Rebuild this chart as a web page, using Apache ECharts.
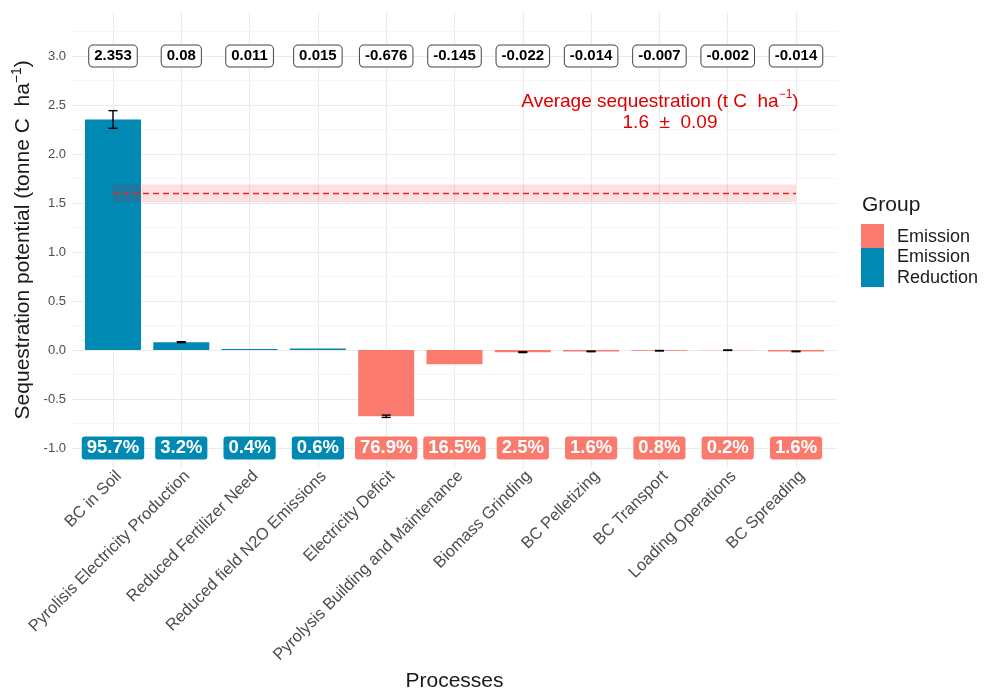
<!DOCTYPE html>
<html>
<head>
<meta charset="utf-8">
<script src="https://cdn.jsdelivr.net/npm/echarts@6/dist/echarts.min.js"></script>
<style>
  html, body { margin: 0; padding: 0; background: #fff; }
  #chart { width: 984px; height: 693px; }
</style>
</head>
<body>
<div id="chart"></div>
<script>
// ---- data ----
const processes = [
  'BC in Soil',
  'Pyrolisis Electricity Production',
  'Reduced Fertilizer Need',
  'Reduced field N2O Emissions',
  'Electricity Deficit',
  'Pyrolysis Building and Maintenance',
  'Biomass Grinding',
  'BC Pelletizing',
  'BC Transport',
  'Loading Operations',
  'BC Spreading'
];
const groups = [
  'Emission Reduction', 'Emission Reduction', 'Emission Reduction', 'Emission Reduction',
  'Emission', 'Emission', 'Emission', 'Emission', 'Emission', 'Emission', 'Emission'
];
// sequestration potential (tonne C ha-1) and its standard deviation
const potential   = [2.353, 0.08, 0.011, 0.015, -0.676, -0.145, -0.022, -0.014, -0.007, -0.002, -0.014];
const potentialSd = [0.09, 0.005, 0, 0, 0.012, 0, 0.004, 0.003, 0.002, 0.002, 0.003];
// share of each process within its group (%)
const groupShare  = [95.7, 3.2, 0.4, 0.6, 76.9, 16.5, 2.5, 1.6, 0.8, 0.2, 1.6];
// average sequestration (t C ha-1)
const avgSequestration = 1.6;
const avgSequestrationSd = 0.09;
// axis ticks
const yMajorTicks = [-1, -0.5, 0, 0.5, 1, 1.5, 2, 2.5, 3];
const yMinorTicks = [-0.75, -0.25, 0.25, 0.75, 1.25, 1.75, 2.25, 2.75, 3.25];
const legendGroups = ['Emission', 'Emission Reduction'];

// ---- styling / layout ----
const GROUP_COLORS = { 'Emission': '#FA7B6D', 'Emission Reduction': '#0089B3' };
const FONT = '"Liberation Sans", Arial, Helvetica, sans-serif';
const Y_MIN = -1.2, Y_MAX = 3.45;
const VALUE_ROW = 3.0;     // row of the value boxes
const SHARE_ROW = -1.0;    // row of the share boxes
const PANEL = { left: 72, right: 837, top: 12, bottom: 467.6 };
const panelW = PANEL.right - PANEL.left;
const panelH = PANEL.bottom - PANEL.top;
const step = panelW / (processes.length + 0.2);     // spacing between categories
const inset = 0.1 * step;
const yPix = v => PANEL.top + (Y_MAX - v) / (Y_MAX - Y_MIN) * panelH;

const chart = echarts.init(document.getElementById('chart'), null, { renderer: 'canvas' });

const majorLine = { color: '#EBEBEB', width: 1.1, type: 'solid' };
const minorLine = { color: '#F2F2F2', width: 0.7, type: 'solid' };

// boxed text drawn at a data position
function boxedText(pt, text, box) {
  return {
    type: 'text', x: pt[0], y: pt[1],
    style: Object.assign({
      text: text, align: 'center', verticalAlign: 'middle', fontFamily: FONT
    }, box)
  };
}

const option = {
  animation: false,
  backgroundColor: '#fff',
  textStyle: { fontFamily: FONT },
  grid: [
    // full panel: background grid lines
    { left: PANEL.left, top: PANEL.top, width: panelW, height: panelH },
    // category panel: bars and labels
    { left: PANEL.left + inset, top: PANEL.top, width: panelW - 2 * inset, height: panelH },
    // tick label strip for the y axis
    { left: PANEL.left, top: yPix(3), width: panelW, height: yPix(-1) - yPix(3) }
  ],
  xAxis: [
    { gridIndex: 0, type: 'value', min: -0.6, max: processes.length - 0.4, show: false },
    {
      gridIndex: 1, type: 'category', data: processes,
      axisLine: { show: false }, axisTick: { show: false }, splitLine: { show: false },
      axisLabel: {
        rotate: 45, interval: 0, margin: 0, verticalAlign: 'top', align: 'right',
        fontSize: 16.5, color: '#4D4D4D', fontFamily: FONT
      }
    },
    { gridIndex: 2, type: 'value', min: 0, max: 1, show: false }
  ],
  yAxis: [
    { gridIndex: 0, type: 'value', min: Y_MIN, max: Y_MAX, show: false },
    { gridIndex: 1, type: 'value', min: Y_MIN, max: Y_MAX, show: false },
    {
      gridIndex: 2, type: 'value', min: -1, max: 3, interval: 0.5,
      axisLine: { show: false }, axisTick: { show: false }, splitLine: { show: false },
      axisLabel: {
        margin: 6, fontSize: 13, color: '#4D4D4D', fontFamily: FONT,
        formatter: v => v.toFixed(1)
      }
    }
  ],
  series: [
    // panel grid lines
    {
      type: 'line', xAxisIndex: 0, yAxisIndex: 0, data: [], silent: true, z: 0,
      markLine: {
        silent: true, symbol: 'none', animation: false, z: 0,
        label: { show: false },
        emphasis: { disabled: true },
        data: [
          ...yMinorTicks.map(v => ({ yAxis: v, lineStyle: minorLine })),
          ...yMajorTicks.map(v => ({ yAxis: v, lineStyle: majorLine })),
          ...processes.map((_, i) => ({ xAxis: i, lineStyle: majorLine }))
        ]
      }
    },
    // bars
    {
      type: 'bar', xAxisIndex: 1, yAxisIndex: 1, z: 2, barWidth: 56,
      data: potential.map((v, i) => ({ value: v, itemStyle: { color: GROUP_COLORS[groups[i]] } }))
    },
    // average sequestration band (mean +/- sd), translucent over the bars
    {
      type: 'line', xAxisIndex: 1, yAxisIndex: 1, data: [], silent: true, z: 3,
      markArea: {
        silent: true, z: 3,
        itemStyle: { color: 'rgba(255, 0, 0, 0.12)' },
        label: { show: false },
        data: [[
          { xAxis: processes[0], yAxis: avgSequestration - avgSequestrationSd },
          { xAxis: processes[processes.length - 1], yAxis: avgSequestration + avgSequestrationSd }
        ]]
      }
    },
    // average sequestration dashed line
    {
      type: 'line', xAxisIndex: 1, yAxisIndex: 1, data: [], silent: true, z: 4,
      markLine: {
        silent: true, symbol: 'none', label: { show: false }, z: 4,
        lineStyle: { color: '#E8262A', width: 1.4, type: [6, 4] },
        data: [[
          { xAxis: processes[0], yAxis: avgSequestration },
          { xAxis: processes[processes.length - 1], yAxis: avgSequestration }
        ]]
      }
    },
    // error bars
    {
      type: 'custom', xAxisIndex: 1, yAxisIndex: 1, z: 5, silent: true,
      data: potential.map((v, i) => [i, v, potentialSd[i]]).filter(d => d[2] > 0),
      renderItem: (params, api) => {
        const i = api.value(0), v = api.value(1), sd = api.value(2);
        const hi = api.coord([i, v + sd]);
        const lo = api.coord([i, v - sd]);
        const half = 4.5;
        const st = { stroke: '#000', lineWidth: 1.4 };
        return {
          type: 'group',
          children: [
            { type: 'line', shape: { x1: hi[0], y1: hi[1], x2: lo[0], y2: lo[1] }, style: st },
            { type: 'line', shape: { x1: hi[0] - half, y1: hi[1], x2: hi[0] + half, y2: hi[1] }, style: st },
            { type: 'line', shape: { x1: lo[0] - half, y1: lo[1], x2: lo[0] + half, y2: lo[1] }, style: st }
          ]
        };
      }
    },
    // value boxes
    {
      type: 'custom', xAxisIndex: 1, yAxisIndex: 1, z: 6, silent: true,
      data: potential.map((v, i) => [i, VALUE_ROW]),
      renderItem: (params, api) => boxedText(
        api.coord([api.value(0), api.value(1)]),
        String(potential[params.dataIndex]),
        {
          fontSize: 15, fontWeight: 'bold', fill: '#000',
          backgroundColor: '#fff', borderColor: '#444', borderWidth: 1, borderRadius: 4,
          padding: [4, 5, 2, 5]
        }
      )
    },
    // group share boxes
    {
      type: 'custom', xAxisIndex: 1, yAxisIndex: 1, z: 6, silent: true,
      data: groupShare.map((s, i) => [i, SHARE_ROW]),
      renderItem: (params, api) => boxedText(
        api.coord([api.value(0), api.value(1)]),
        groupShare[params.dataIndex].toFixed(1) + '%',
        {
          fontSize: 18.5, fontWeight: 'bold', fill: '#fff',
          backgroundColor: GROUP_COLORS[groups[params.dataIndex]], borderRadius: 3,
          padding: [3, 5, 1, 5]
        }
      )
    }
  ],
  graphic: [
    // y axis title
    {
      type: 'text', z: 100, x: 22, y: (PANEL.top + PANEL.bottom) / 2, rotation: Math.PI / 2,
      style: {
        text: '{t|Sequestration potential (tonne C  ha}{s|−1}{t|)}',
        align: 'center', verticalAlign: 'middle',
        rich: {
          t: { fontFamily: FONT, fontSize: 21, fill: '#1a1a1a', verticalAlign: 'bottom', lineHeight: 24 },
          s: { fontFamily: FONT, fontSize: 14, fill: '#1a1a1a', verticalAlign: 'top', lineHeight: 24 }
        }
      }
    },
    // x axis title
    {
      type: 'text', z: 100, x: (PANEL.left + PANEL.right) / 2, y: 681,
      style: { text: 'Processes', font: '21px ' + FONT, fill: '#1a1a1a', align: 'center', verticalAlign: 'middle' }
    },
    // average annotation
    {
      type: 'text', z: 100, x: 660, y: 100,
      style: {
        text: '{t|Average sequestration (t C  ha}{s|−1}{t|)}',
        align: 'center', verticalAlign: 'middle',
        rich: {
          t: { fontFamily: FONT, fontSize: 19, fill: '#E00000', verticalAlign: 'bottom', lineHeight: 22 },
          s: { fontFamily: FONT, fontSize: 12, fill: '#E00000', verticalAlign: 'top', lineHeight: 22 }
        }
      }
    },
    {
      type: 'text', z: 100, x: 670, y: 123,
      style: {
        text: avgSequestration.toFixed(1) + '  ±  ' + avgSequestrationSd.toFixed(2),
        font: '19px ' + FONT, fill: '#E00000', align: 'center', verticalAlign: 'middle'
      }
    },
    // legend
    {
      type: 'text', z: 100, x: 862, y: 205,
      style: { text: 'Group', font: '21px ' + FONT, fill: '#1a1a1a', align: 'left', verticalAlign: 'middle' }
    },
    {
      type: 'rect', z: 100, shape: { x: 861, y: 224, width: 23, height: 24 },
      style: { fill: GROUP_COLORS[legendGroups[0]] }
    },
    {
      type: 'rect', z: 100, shape: { x: 861, y: 248, width: 23, height: 39 },
      style: { fill: GROUP_COLORS[legendGroups[1]] }
    },
    {
      type: 'text', z: 100, x: 897, y: 237,
      style: { text: legendGroups[0], font: '18px ' + FONT, fill: '#1a1a1a', align: 'left', verticalAlign: 'middle' }
    },
    {
      type: 'text', z: 100, x: 897, y: 268,
      style: { text: legendGroups[1].replace(' ', '\n'), font: '18px ' + FONT, lineHeight: 21, fill: '#1a1a1a', align: 'left', verticalAlign: 'middle' }
    }
  ]
};

chart.setOption(option);
</script>
</body>
</html>
